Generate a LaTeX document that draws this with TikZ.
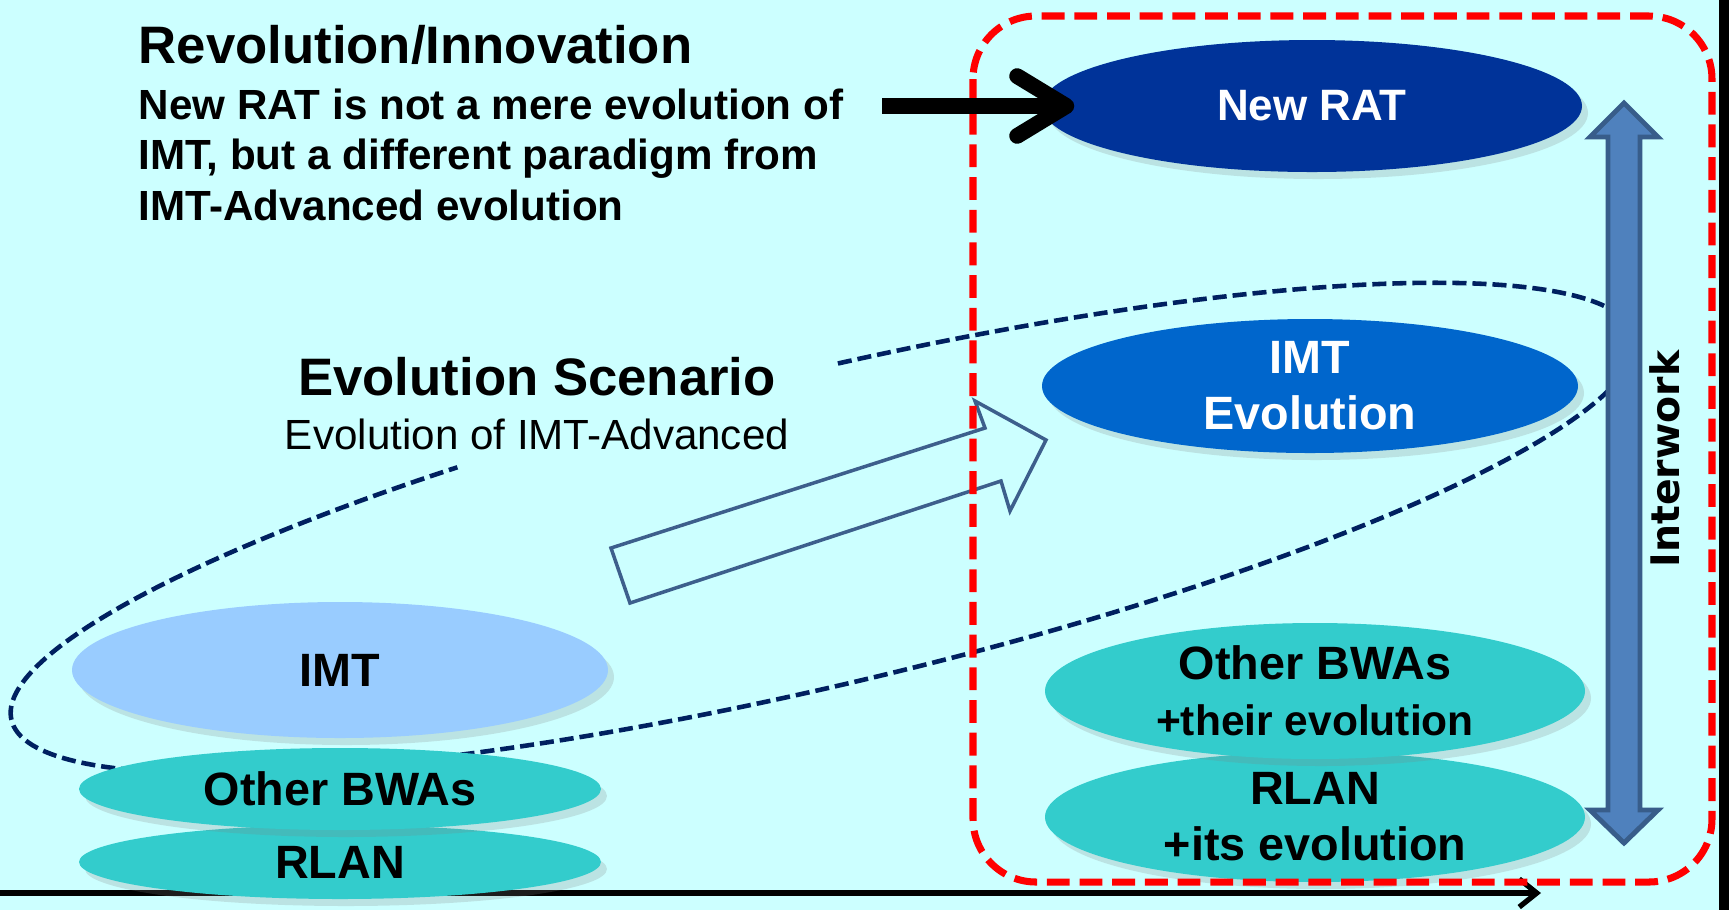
\documentclass[tikz,border=0pt]{standalone}
\usepackage{fontspec}
\setmainfont{Liberation Sans}
\newfontfamily\widesans{DejaVu Sans}
\usetikzlibrary{arrows.meta,shapes.geometric,shadows,positioning}

\definecolor{bgcyan}{HTML}{CCFFFF}
\definecolor{ratblue}{HTML}{003399}
\definecolor{evoblue}{HTML}{0066CC}
\definecolor{imtblue}{HTML}{99CCFF}
\definecolor{bwateal}{HTML}{33CCCC}
\definecolor{loopnavy}{HTML}{002060}
\definecolor{blockedge}{HTML}{3D5F8C}
\definecolor{iwfill}{HTML}{4F81BD}
\definecolor{iwedge}{HTML}{385D8A}

\begin{document}
\begin{tikzpicture}[x=0.1mm,y=-0.1mm,
    oval/.style={ellipse,inner sep=0pt,
      drop shadow={shadow xshift=0.06cm,shadow yshift=-0.07cm,opacity=0.22}},
    ovaltext/.style={align=center,font=\fontsize{13.3}{16}\selectfont\bfseries},
    evoloop/.style={loopnavy,line width=1.3pt,dash pattern=on 4pt off 1.7pt},
    reddash/.style={red,line width=2pt,dash pattern=on 6.5pt off 2.8pt}]

        % background
        \fill[bgcyan] (0,0) rectangle (1729,910);
        \fill[black] (1719,0) rectangle (1729,910);
        \useasboundingbox (0,0) rectangle (1729,910);

        % evolution scenario loop
        \begin{scope}[shift={(823,528)},rotate=13.3]
          \draw[evoloop] (86.4:8.34cm and 1.57cm)
          arc[start angle=86.4,end angle=-245.8,x radius=8.34cm,y radius=1.57cm];
        \end{scope}

        % hollow evolution arrow
        \draw[blockedge,line width=1pt] (611,548) -- (985,428) -- (975,401)
        -- (1046,440) -- (1010,511) -- (1001,481) -- (630,603) -- cycle;

        % time axis
        \coordinate (axisfrom) at (0,893);
        \coordinate (axisto) at (1541,893);
        \draw[line width=1.5pt,-{Straight Barb[length=5pt,width=8pt]}] (axisfrom) -- (axisto);

        % today
        \node[oval,fill=imtblue,minimum width=5.36cm,minimum height=1.36cm] (imt) at (340,670) {};
        \node[oval,fill=bwateal,minimum width=5.22cm,minimum height=0.74cm] (rlan) at (340,862) {};
        \node[oval,fill=bwateal,minimum width=5.22cm,minimum height=0.82cm] (bwa) at (340,789) {};
        \node[ovaltext] (imttext) at (imt) {IMT};
        \node[ovaltext] (rlantext) at (rlan) {RLAN};
        \node[ovaltext] (bwatext) at (bwa) {Other BWAs};

        % future
        \node[oval,fill=ratblue,minimum width=5.4cm,minimum height=1.32cm] (newrat) at (1312,106) {};
        \node[oval,fill=evoblue,minimum width=5.36cm,minimum height=1.34cm] (imtevo) at (1310,386) {};
        \node[oval,fill=bwateal,minimum width=5.4cm,minimum height=1.3cm] (rlanevo) at (1315,817) {};
        \node[oval,fill=bwateal,minimum width=5.4cm,minimum height=1.36cm] (bwaevo) at (1315,691) {};
        \node[ovaltext,white,font=\fontsize{12.5}{15}\selectfont\bfseries] (newrattext) at (newrat) {New RAT};
        \node[ovaltext,white] (imtevotext) at (imtevo) {IMT\\Evolution};
        \node[ovaltext] (rlanevotext) at (rlanevo) {RLAN\\+its evolution};
        \node[ovaltext] (bwaevotext) at (bwaevo) {Other BWAs\\{\fontsize{12.1}{16}\selectfont +their evolution}};

        \draw[reddash,rounded corners=0.63cm] (973,16) rectangle (1712,882);

        % texts
        \node[anchor=base west,inner sep=0pt,font=\fontsize{15}{18}\selectfont\bfseries]
        (revtitle) at (138,63) {Revolution/Innovation};
        \node[anchor=north west,inner sep=0pt,align=left,font=\fontsize{12}{14.4}\selectfont\bfseries]
        (revnote) at (138,88) {New RAT is not a mere evolution of\\IMT, but a different paradigm from\\IMT-Advanced evolution};
        \node[anchor=base,inner sep=0pt,font=\fontsize{15}{18}\selectfont\bfseries]
        (evotitle) at (537,395) {Evolution Scenario};
        \node[anchor=base,inner sep=0pt,font=\fontsize{12}{14.4}\selectfont]
        (evonote) at (537,449) {Evolution of IMT-Advanced};

        % arrows
        \coordinate (ratfrom) at (882,106);
        \draw[line width=4.5pt,-{Straight Barb[length=14pt,width=17pt,round]}]
        (ratfrom) -- ([xshift=0.33cm]newrat.west);

        \draw[fill=iwfill,draw=iwedge,line width=1.4pt] (1624,103) -- (1658,137) -- (1640,137)
        -- (1640,810) -- (1658,810) -- (1624,843) -- (1590,810) -- (1608,810)
        -- (1608,137) -- (1590,137) -- cycle;
        \node[rotate=90,font=\widesans\bfseries\fontsize{11.2}{13}\selectfont] (interwork) at (1665,459) {Interwork};

      \end{tikzpicture}
\end{document}
